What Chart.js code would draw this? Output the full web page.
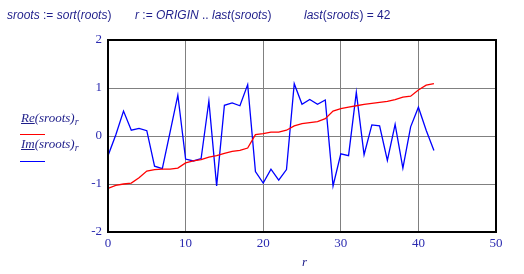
<!DOCTYPE html>
<html>
<head>
<meta charset="utf-8">
<script src="https://cdn.jsdelivr.net/npm/chart.js@4.4.1/dist/chart.umd.min.js"></script>
<style>
  body { margin: 0; background: #fff; }
  #wrap { position: relative; width: 524px; height: 274px; }
  #plot { position: absolute; left: 0; top: 0; }
  .txt { position: absolute; font-family: "Liberation Serif", "Times New Roman", serif; font-size: 13px; line-height: 1; color: #1e1e8a; white-space: nowrap; }
  .top { font-family: "Liberation Sans", Arial, sans-serif; font-size: 12px; }
  .txt i { font-style: italic; }
  .txt sub { font-size: 10px; font-style: italic; vertical-align: -3px; line-height: 0; }
  .u { text-decoration: underline; }
  .key { position: absolute; left: 20px; width: 25px; height: 1px; }
</style>
</head>
<body>
<div id="wrap">
  <canvas id="plot" width="524" height="274"></canvas>
  <div class="txt top" style="left:7px; top:9px;"><i>sroots</i> := <i>sort</i>(<i>roots</i>)</div>
  <div class="txt top" style="left:135px; top:9px;"><i>r</i> := <i>ORIGIN</i> .. <i>last</i>(<i>sroots</i>)</div>
  <div class="txt top" style="left:304px; top:9px;"><i>last</i>(<i>sroots</i>) = 42</div>

  <div class="txt" style="left:21px; top:111px;"><i><span class="u">Re</span>(sroots)</i><sub>r</sub></div>
  <div class="key" style="top:134px; background:#ff0000;"></div>
  <div class="txt" style="left:21px; top:137px;"><i><span class="u">Im</span>(sroots)</i><sub>r</sub></div>
  <div class="key" style="top:161px; background:#0000ff;"></div>

  <div class="txt" style="left:302px; top:255px;"><i>r</i></div>
</div>
<script>
// values, r = 0 .. 42
const reValues = [-1.09, -1.03, -1.00, -0.98, -0.87, -0.73, -0.70, -0.69, -0.69, -0.67,
  -0.56, -0.52, -0.49, -0.44, -0.41, -0.36, -0.32, -0.30, -0.25, 0.03,
  0.05, 0.08, 0.08, 0.12, 0.21, 0.26, 0.28, 0.30, 0.36, 0.52,
  0.57, 0.60, 0.63, 0.66, 0.68, 0.70, 0.72, 0.76, 0.81, 0.83,
  0.96, 1.06, 1.09];
const imValues = [-0.41, 0.02, 0.52, 0.12, 0.16, 0.11, -0.63, -0.68, 0.08, 0.85,
  -0.48, -0.52, -0.47, 0.73, -1.04, 0.64, 0.69, 0.63, 1.07, -0.74,
  -0.98, -0.69, -0.92, -0.70, 1.09, 0.66, 0.76, 0.66, 0.75, -1.04,
  -0.37, -0.41, 0.91, -0.39, 0.23, 0.21, -0.51, 0.24, -0.67, 0.19,
  0.60, 0.12, -0.30];
const rIndex = reValues.map((_, i) => i);

const xTicks = [0, 10, 20, 30, 40, 50];
const yTicks = [-2, -1, 0, 1, 2];

const tickColor = '#2b2bb0';
const tickFont = { family: '"Liberation Serif", serif', size: 13 };

// black box round the plot area, like the original
const frame = {
  id: 'frame',
  afterDraw(chart) {
    const { ctx, chartArea: a } = chart;
    ctx.save();
    ctx.strokeStyle = '#000';
    ctx.lineWidth = 2;
    ctx.strokeRect(a.left, a.top, a.right - a.left, a.bottom - a.top);
    ctx.restore();
  }
};

new Chart(document.getElementById('plot').getContext('2d'), {
  type: 'line',
  data: {
    datasets: [
      {
        label: 'Re(sroots)r',
        data: rIndex.map((r, i) => ({ x: r, y: reValues[i] })),
        borderColor: '#ff0000',
        borderWidth: 1.3,
        pointRadius: 0,
        tension: 0,
      },
      {
        label: 'Im(sroots)r',
        data: rIndex.map((r, i) => ({ x: r, y: imValues[i] })),
        borderColor: '#0000ff',
        borderWidth: 1.3,
        pointRadius: 0,
        tension: 0,
      },
    ],
  },
  options: {
    animation: false,
    responsive: false,
    layout: { padding: { left: 0, right: 28, top: 40, bottom: 20 } },
    plugins: { legend: { display: false }, tooltip: { enabled: false } },
    scales: {
      x: {
        type: 'linear',
        min: xTicks[0],
        max: xTicks[xTicks.length - 1],
        afterBuildTicks: (s) => { s.ticks = xTicks.map(v => ({ value: v })); },
        ticks: { color: tickColor, font: tickFont, padding: 4, maxRotation: 0 },
        grid: { color: '#808080', drawTicks: false },
        border: { display: false },
        afterFit: (s) => { s.height = 22; },
      },
      y: {
        min: yTicks[0],
        max: yTicks[yTicks.length - 1],
        afterBuildTicks: (s) => { s.ticks = yTicks.map(v => ({ value: v })); },
        ticks: { color: tickColor, font: tickFont, padding: 6 },
        grid: { color: '#808080', drawTicks: false },
        border: { display: false },
        afterFit: (s) => { s.width = 108; },
      },
    },
  },
  plugins: [frame],
});
</script>
</body>
</html>
